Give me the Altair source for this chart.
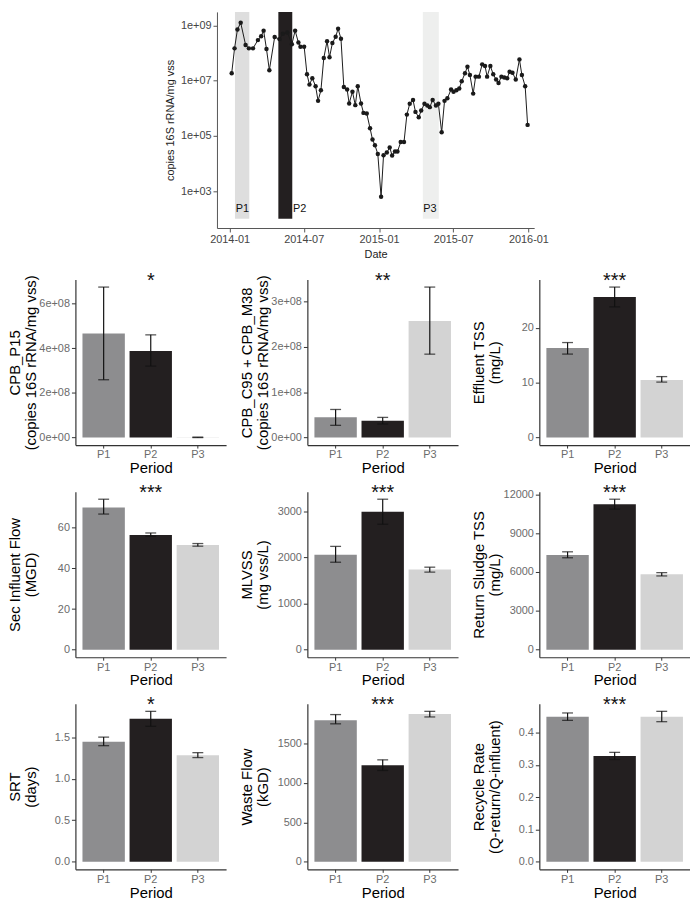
import altair as alt
import pandas as pd

FONT = "Liberation Sans"

# ---------------- time series (top panel) ----------------
ts_dates = [
    "2014-01-06", "2014-01-13", "2014-01-20", "2014-01-28", "2014-02-09", "2014-02-17",
    "2014-02-27", "2014-03-11", "2014-03-19", "2014-03-25", "2014-04-01", "2014-04-08",
    "2014-04-21", "2014-05-03", "2014-05-11", "2014-05-22", "2014-06-02", "2014-06-10",
    "2014-06-18", "2014-06-23", "2014-07-02", "2014-07-09", "2014-07-15", "2014-07-22",
    "2014-07-30", "2014-08-05", "2014-08-12", "2014-08-19", "2014-08-27", "2014-09-02",
    "2014-09-09", "2014-09-17", "2014-09-23", "2014-09-30", "2014-10-07", "2014-10-15",
    "2014-10-20", "2014-10-28", "2014-11-04", "2014-11-10", "2014-11-18", "2014-11-24",
    "2014-12-02", "2014-12-10", "2014-12-16", "2014-12-22", "2014-12-29", "2015-01-06",
    "2015-01-12", "2015-01-20", "2015-01-27", "2015-02-02", "2015-02-09", "2015-02-15",
    "2015-02-23", "2015-03-03", "2015-03-10", "2015-03-17", "2015-03-25", "2015-03-31",
    "2015-04-08", "2015-04-14", "2015-04-22", "2015-04-29", "2015-05-05", "2015-05-12",
    "2015-05-20", "2015-05-26", "2015-06-03", "2015-06-10", "2015-06-17", "2015-06-26",
    "2015-07-02", "2015-07-09", "2015-07-16", "2015-07-22", "2015-07-30", "2015-08-05",
    "2015-08-11", "2015-08-19", "2015-08-25", "2015-09-02", "2015-09-10", "2015-09-17",
    "2015-09-22", "2015-09-30", "2015-10-07", "2015-10-14", "2015-10-20", "2015-10-27",
    "2015-11-03", "2015-11-10", "2015-11-16", "2015-11-23", "2015-12-01", "2015-12-10",
    "2015-12-16", "2015-12-24", "2015-12-30",
]
ts_values = [
    1.86e7, 1.48e8, 7.1e8, 1.26e9, 1.95e8, 1.48e8,
    1.48e8, 2.95e8, 4.1e8, 6.5e8, 1.4e8, 2.4e7,
    3.8e8, 3.2e8, 5.0e8, 5.6e8, 2.1e8, 6.5e8,
    2.4e8, 1.7e8, 1.7e8, 1.7e7, 7.2e6, 1.23e7,
    6.3e6, 1.86e6, 4.5e6, 6.6e7, 2.7e8, 7.1e7,
    2.3e8, 3.9e8, 7.6e8, 3.3e8, 5.9e6, 4.8e6,
    1.5e6, 4.0e6, 1.3e6, 6.3e6, 1.5e6, 6.8e5,
    6.5e5, 1.9e5, 7.4e4, 4.6e4, 2.2e4, 6.2e2,
    2.0e4, 2.5e4, 3.8e4, 1.95e4, 2.7e4, 2.7e4,
    6.0e4, 6.0e4, 5.9e5, 1.45e6, 2.0e6, 7.4e5,
    4.7e5, 8.3e5, 1.45e6, 1.26e6, 1.1e6, 2.0e6,
    1.26e6, 1.45e6, 1.35e5, 1.86e6, 2.3e6, 4.8e6,
    4.0e6, 4.5e6, 5.2e6, 9.5e6, 1.86e7, 3.2e7,
    1.6e7, 3.4e6, 1.4e7, 1.4e7, 3.9e7, 3.4e7,
    1.4e7, 3.4e7, 1.7e7, 1.1e7, 8.3e6, 1.4e7,
    1.3e7, 1.23e7, 2.1e7, 1.95e7, 1.1e7, 5.9e7,
    1.6e7, 6.3e6, 2.5e5,
]

period_names = ["P1", "P2", "P3"]
period_start = ["2014-01-14", "2014-04-30", "2015-04-18"]
period_end = ["2014-02-18", "2014-06-03", "2015-05-27"]
period_label_date = ["2014-01-16", "2014-06-05", "2015-04-19"]
period_rect_colors = ["#dedede", "#231f20", "#eeefee"]
rect_bottom = 100
label_level = 215

ts_y_domain = [46, 3.1e9]
ts_y_ticks = [1e3, 1e5, 1e7, 1e9]

# ---------------- bar panels ----------------
bar_colors = ["#8d8d8f", "#231f20", "#d3d3d3"]

cpb_p15_mean = [4.66e8, 3.88e8, 1.0e6]
cpb_p15_lo = [2.59e8, 3.2e8, 0.0]
cpb_p15_hi = [6.74e8, 4.6e8, 2.0e6]

cpb_c95_mean = [4.5e7, 3.7e7, 2.57e8]
cpb_c95_lo = [2.7e7, 3.0e7, 1.84e8]
cpb_c95_hi = [6.2e7, 4.45e7, 3.32e8]

eff_tss_mean = [16.3, 25.6, 10.5]
eff_tss_lo = [15.2, 23.8, 10.1]
eff_tss_hi = [17.3, 27.4, 11.1]

sec_flow_mean = [69.9, 56.4, 51.5]
sec_flow_lo = [66.7, 55.8, 50.9]
sec_flow_hi = [74.0, 57.4, 52.2]

mlvss_mean = [2057, 2986, 1736]
mlvss_lo = [1893, 2715, 1679]
mlvss_hi = [2236, 3257, 1786]

rs_tss_mean = [7302, 11234, 5821]
rs_tss_lo = [7097, 10851, 5694]
rs_tss_hi = [7557, 11617, 5949]

srt_mean = [1.444, 1.722, 1.282]
srt_lo = [1.397, 1.63, 1.254]
srt_hi = [1.5, 1.81, 1.313]

waste_mean = [1792, 1224, 1872]
waste_lo = [1747, 1157, 1834]
waste_hi = [1864, 1291, 1905]

recycle_mean = [0.449, 0.328, 0.449]
recycle_lo = [0.438, 0.317, 0.434]
recycle_hi = [0.461, 0.339, 0.466]

AXIS_COLOR = "#333333"
LABEL_COLOR = "#6b6b6b"

# ---------------- top chart ----------------
ts_df = pd.DataFrame({"date": ts_dates, "value": ts_values})
rect_df = pd.DataFrame({
    "period": period_names,
    "fill": period_rect_colors,
    "start": period_start,
    "end": period_end,
    "label_date": period_label_date,
    "ymin": [rect_bottom] * 3,
    "ymax": [ts_y_domain[1]] * 3,
    "label_y": [label_level] * 3,
})

x_scale = alt.Scale(
    type="utc",
    domain=[alt.DateTime(year=2013, month=12, date=1, utc=True),
            alt.DateTime(year=2016, month=1, date=15, utc=True)],
    nice=False,
)
x_axis = alt.Axis(
    title="Date",
    labelExpr="utcFormat(datum.value, '%Y-%m')",
    values=[alt.DateTime(year=y, month=m, date=1, utc=True)
            for (y, m) in [(2014, 1), (2014, 7), (2015, 1), (2015, 7), (2016, 1)]],
    labelFontSize=11, titleFontSize=11, labelColor="#444444", titleColor="#222222",
    tickSize=4, labelPadding=2, titlePadding=4, domainColor="#555555", tickColor="#555555",
    grid=False, labelFont=FONT, titleFont=FONT, titleFontWeight="normal",
)
y_scale_ts = alt.Scale(type="log", domain=ts_y_domain, nice=False)
y_axis_ts = alt.Axis(
    title="copies 16S rRNA/mg vss", values=ts_y_ticks,
    labelExpr="replace(format(datum.value, '.0e'), 'e+', 'e+0')",
    labelFontSize=11, titleFontSize=11, labelColor="#444444", titleColor="#222222",
    tickSize=4, labelPadding=2, titlePadding=5, domainColor="#555555", tickColor="#555555",
    grid=False, labelFont=FONT, titleFont=FONT, titleFontWeight="normal",
)

rects = alt.Chart(rect_df).mark_rect().encode(
    x=alt.X("start:T", scale=x_scale, axis=x_axis),
    x2="end:T",
    y=alt.Y("ymin:Q", scale=y_scale_ts, axis=y_axis_ts),
    y2="ymax:Q",
    color=alt.Color("fill:N", scale=None, legend=None),
)
line = alt.Chart(ts_df).mark_line(color="#1a1a1a", strokeWidth=1).encode(
    x=alt.X("date:T", scale=x_scale, axis=x_axis),
    y=alt.Y("value:Q", scale=y_scale_ts, axis=y_axis_ts),
)
pts = alt.Chart(ts_df).mark_circle(color="#1a1a1a", size=20, opacity=1).encode(
    x=alt.X("date:T", scale=x_scale, axis=x_axis),
    y=alt.Y("value:Q", scale=y_scale_ts, axis=y_axis_ts),
)
plabels = alt.Chart(rect_df).mark_text(align="left", baseline="middle", fontSize=11, font=FONT, color="#111111").encode(
    x=alt.X("label_date:T", scale=x_scale, axis=x_axis),
    y=alt.Y("label_y:Q", scale=y_scale_ts, axis=y_axis_ts),
    text="period:N",
)
top_chart = alt.layer(rects, line, pts, plabels).properties(width=320, height=218)

# ---------------- bar panels ----------------
def bar_panel(title_lines, means, lo, hi, stars, ticks, fmt=None, sci=False):
    M = max(hi)
    df = pd.DataFrame({"period": period_names, "fill": bar_colors, "mean": means, "lo": lo, "hi": hi})
    star_df = pd.DataFrame({"period": ["P2"], "y": [M], "label": [stars]})
    y_scale = alt.Scale(domain=[-0.05 * M, 1.05 * M], nice=False, zero=False)
    x_scale_b = alt.Scale(domain=period_names, paddingInner=0.1, paddingOuter=0.15)
    axis_kw = dict(
        labelFontSize=11, titleFontSize=15, labelColor=LABEL_COLOR, titleColor="#000000",
        domainColor=AXIS_COLOR, tickColor=AXIS_COLOR, tickSize=4, labelPadding=2,
        domainWidth=1.2, grid=False, labelFont=FONT, titleFont=FONT, titleFontWeight="normal",
    )
    y_kw = dict(values=ticks, minExtent=34, maxExtent=34, titlePadding=3, titleLineHeight=16)
    if sci:
        y_kw["labelExpr"] = "replace(format(datum.value, '.0e'), 'e+', 'e+0')"
    elif fmt:
        y_kw["format"] = fmt
    y_axis = alt.Axis(title=title_lines, **y_kw, **axis_kw)
    x_kw = dict(axis_kw)
    x_kw.update(tickSize=3, labelPadding=1)
    x_axis_b = alt.Axis(title="Period", labelAngle=0, titlePadding=1, **x_kw)
    X = alt.X("period:N", scale=x_scale_b, axis=x_axis_b)
    bars = alt.Chart(df).mark_bar().encode(
        x=X,
        y=alt.Y("mean:Q", scale=y_scale, axis=y_axis),
        y2=alt.datum(0),
        color=alt.Color("fill:N", scale=None, legend=None),
    )
    rule = alt.Chart(df).mark_rule(color="#111111", strokeWidth=1.2).encode(
        x=X, y=alt.Y("lo:Q", scale=y_scale, axis=y_axis), y2="hi:Q",
    )
    cap_hi = alt.Chart(df).mark_tick(color="#111111", size=11, thickness=1.3).encode(
        x=X, y=alt.Y("hi:Q", scale=y_scale, axis=y_axis),
    )
    cap_lo = alt.Chart(df).mark_tick(color="#111111", size=11, thickness=1.3).encode(
        x=X, y=alt.Y("lo:Q", scale=y_scale, axis=y_axis),
    )
    star = alt.Chart(star_df).mark_text(fontSize=20, font=FONT, baseline="middle", dy=-6, color="#111111").encode(
        x=X, y=alt.Y("y:Q", scale=y_scale, axis=y_axis), text="label:N",
    )
    return alt.layer(bars, rule, cap_hi, cap_lo, star).properties(width=152, height=167)


p1 = bar_panel(["CPB_P15", "(copies 16S rRNA/mg vss)"], cpb_p15_mean, cpb_p15_lo, cpb_p15_hi,
               "*", [0, 2e8, 4e8, 6e8], sci=True)
p2 = bar_panel(["CPB_C95 + CPB_M38", "(copies 16S rRNA/mg vss)"], cpb_c95_mean, cpb_c95_lo, cpb_c95_hi,
               "**", [0, 1e8, 2e8, 3e8], sci=True)
p3 = bar_panel(["Effluent TSS", "(mg/L)"], eff_tss_mean, eff_tss_lo, eff_tss_hi,
               "***", [0, 10, 20], fmt="d")
p4 = bar_panel(["Sec Influent Flow", "(MGD)"], sec_flow_mean, sec_flow_lo, sec_flow_hi,
               "***", [0, 20, 40, 60], fmt="d")
p5 = bar_panel(["MLVSS", "(mg vss/L)"], mlvss_mean, mlvss_lo, mlvss_hi,
               "***", [0, 1000, 2000, 3000], fmt="d")
p6 = bar_panel(["Return Sludge TSS", "(mg/L)"], rs_tss_mean, rs_tss_lo, rs_tss_hi,
               "***", [0, 3000, 6000, 9000, 12000], fmt="d")
p7 = bar_panel(["SRT", "(days)"], srt_mean, srt_lo, srt_hi,
               "*", [0, 0.5, 1.0, 1.5], fmt=".1f")
p8 = bar_panel(["Waste Flow", "(kGD)"], waste_mean, waste_lo, waste_hi,
               "***", [0, 500, 1000, 1500], fmt="d")
p9 = bar_panel(["Recycle Rate", "(Q-return/Q-influent)"], recycle_mean, recycle_lo, recycle_hi,
               "***", [0, 0.1, 0.2, 0.3, 0.4], fmt=".1f")

grid = alt.vconcat(
    alt.hconcat(p1, p2, p3, spacing=14),
    alt.hconcat(p4, p5, p6, spacing=14),
    alt.hconcat(p7, p8, p9, spacing=14),
    spacing=7,
)

chart = alt.vconcat(top_chart, grid, spacing=11, center=True).properties(
    padding=0, background="white"
).configure_view(stroke=None)

chart.save("out.html", embed_options={"renderer": "svg", "actions": False})
